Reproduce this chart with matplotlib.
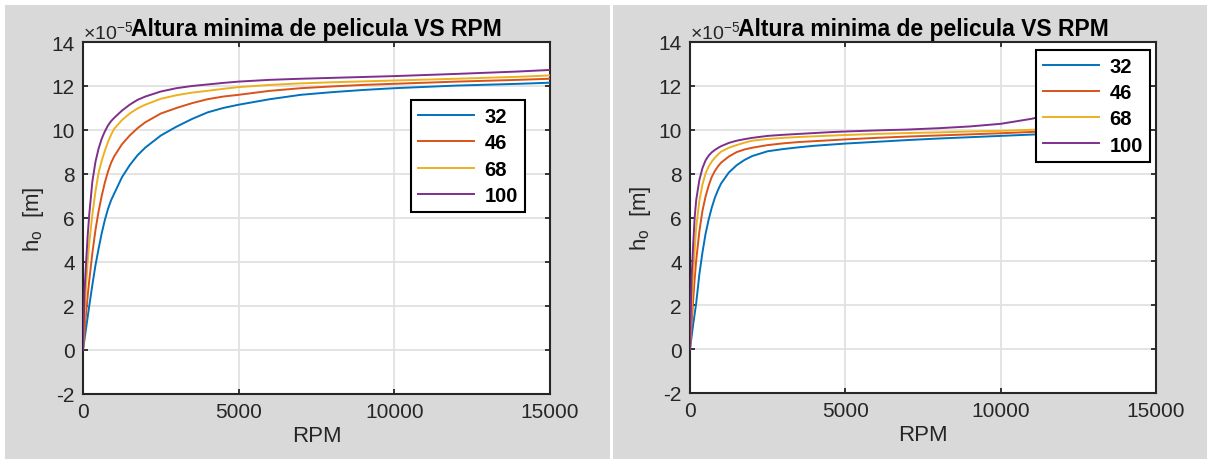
import matplotlib
matplotlib.use("Agg")
import matplotlib.pyplot as plt
from matplotlib.patches import Rectangle
from matplotlib.ticker import ScalarFormatter

# viscosidades (ISO VG)
labels = ["32", "46", "68", "100"]
colors = ["#0072BD", "#D95319", "#EDB120", "#7E2F8E"]

# panel izquierdo: h0 en unidades de 1e-5 m
rpm_izq = [0, 50, 100, 150, 200, 300, 400, 500, 600, 700, 800, 900, 1000, 1250, 1500,
           1750, 2000, 2500, 3000, 3500, 4000, 4500, 5000, 6000, 7000, 8000, 9000,
           10000, 12000, 14000, 15000]
h_izq_32 = [0, 0.5, 1.0, 1.5, 2.0, 2.95, 3.85, 4.6, 5.3, 5.9, 6.4, 6.8, 7.1, 7.85, 8.4,
            8.85, 9.2, 9.75, 10.15, 10.5, 10.8, 11.0, 11.15, 11.4, 11.6, 11.72, 11.82,
            11.9, 12.02, 12.1, 12.15]
h_izq_46 = [0, 0.85, 1.7, 2.45, 3.15, 4.4, 5.45, 6.3, 7.0, 7.6, 8.1, 8.5, 8.8, 9.35, 9.75,
            10.08, 10.35, 10.75, 11.0, 11.22, 11.4, 11.52, 11.6, 11.78, 11.9, 11.98, 12.05,
            12.1, 12.2, 12.28, 12.33]
h_izq_68 = [0, 1.55, 2.95, 4.0, 4.85, 6.15, 7.2, 8.05, 8.6, 9.05, 9.45, 9.78, 10.05, 10.45, 10.75,
            10.98, 11.15, 11.42, 11.58, 11.7, 11.78, 11.87, 11.95, 12.05, 12.12, 12.17, 12.21,
            12.25, 12.33, 12.42, 12.48]
h_izq_100 = [0, 2.7, 4.0, 5.2, 6.15, 7.65, 8.55, 9.15, 9.6, 9.93, 10.2, 10.4, 10.55, 10.88, 11.15,
             11.37, 11.52, 11.75, 11.9, 12.0, 12.07, 12.14, 12.2, 12.28, 12.33, 12.37, 12.41,
             12.45, 12.55, 12.66, 12.73]

# panel derecho
rpm_der = [0, 50, 100, 150, 200, 300, 400, 500, 600, 700, 800, 900, 1000, 1250, 1500,
           1750, 2000, 2500, 3000, 3500, 4000, 4500, 5000, 6000, 7000, 8000, 9000,
           10000, 11000, 12000]
h_der_32 = [0, 0.55, 1.1, 1.6, 2.1, 3.4, 4.4, 5.25, 5.9, 6.45, 6.9, 7.25, 7.55, 8.05, 8.38,
            8.62, 8.8, 9.02, 9.12, 9.2, 9.27, 9.32, 9.37, 9.45, 9.53, 9.6, 9.66,
            9.72, 9.78, 9.83]
h_der_46 = [0, 1.1, 2.2, 3.2, 4.05, 5.35, 6.3, 6.95, 7.45, 7.85, 8.12, 8.33, 8.5, 8.78, 8.98,
            9.1, 9.18, 9.3, 9.38, 9.44, 9.48, 9.52, 9.56, 9.63, 9.69, 9.74, 9.79,
            9.84, 9.9, 9.96]
h_der_68 = [0, 1.85, 3.3, 4.5, 5.55, 6.75, 7.5, 8.0, 8.32, 8.55, 8.72, 8.87, 9.0, 9.18, 9.3,
            9.41, 9.5, 9.58, 9.63, 9.67, 9.7, 9.73, 9.76, 9.81, 9.85, 9.88, 9.92,
            9.95, 10.0, 10.05]
h_der_100 = [0, 3.2, 4.7, 6.0, 6.8, 7.7, 8.25, 8.6, 8.82, 8.97, 9.08, 9.17, 9.25, 9.4, 9.5,
             9.57, 9.63, 9.72, 9.77, 9.81, 9.85, 9.89, 9.92, 9.97, 10.01, 10.07, 10.15,
             10.27, 10.5, 10.85]

titulo = "Altura minima de pelicula VS RPM"
xticks = [0, 5000, 10000, 15000]
yticks = [-2, 0, 2, 4, 6, 8, 10, 12, 14]

plt.rcParams["font.family"] = ["Liberation Sans", "DejaVu Sans"]
plt.rcParams["axes.unicode_minus"] = False
plt.rcParams["mathtext.default"] = "regular"


class Exp5Formatter(ScalarFormatter):
    # escala fija x10^-5 como en MATLAB
    def _set_order_of_magnitude(self, *args):
        self.orderOfMagnitude = -5

    def get_offset(self):
        return "\u00d710$^{-5}$"


W, H = 1207, 460
fig = plt.figure(figsize=(W / 100, H / 100), dpi=100, facecolor="#d9d9d9")

# franjas blancas de la captura
for x0, y0, w, h in [(0, 0, W, 6), (0, 0, 5, H), (610, 0, 3, H)]:
    fig.add_artist(Rectangle((x0 / W, 1 - (y0 + h) / H), w / W, h / H,
                             transform=fig.transFigure, facecolor="white",
                             edgecolor="none", zorder=0))

txt = "#262626"


def panel(ax, rpm, series, leg_anchor):
    for vals, lab, col in zip(series, labels, colors):
        ax.plot(rpm, [v * 1e-5 for v in vals], color=col, lw=1.4, label=lab, zorder=3)
    ax.set_xlim(0, 15000)
    ax.set_ylim(-2e-5, 14e-5)
    ax.set_xticks(xticks)
    ax.set_yticks([t * 1e-5 for t in yticks])
    ax.yaxis.set_major_formatter(Exp5Formatter(useMathText=False))
    off = ax.yaxis.get_offset_text()
    off.set_fontsize(14)
    off.set_color(txt)
    ax.grid(True, color="#e2e2e2", lw=1.3, zorder=0)
    ax.set_axisbelow(True)
    ax.tick_params(direction="in", top=True, right=True, length=3.5, width=1.3,
                   labelsize=15, colors=txt, pad=6)
    for s in ax.spines.values():
        s.set_linewidth(1.5)
        s.set_color(txt)
    ax.set_title(titulo, fontsize=16.5, fontweight="bold", color="black", y=1.0, pad=5)
    ax.set_xlabel("RPM", fontsize=16, color=txt, labelpad=3)
    ax.set_ylabel("h$_o$  [m]", fontsize=16, color=txt, labelpad=4)
    leg = ax.legend(loc="upper right", bbox_to_anchor=leg_anchor, borderaxespad=0,
                    fancybox=False, framealpha=1, edgecolor="black",
                    prop={"weight": "bold", "size": 14.5}, handlelength=2.8,
                    handletextpad=0.5, labelspacing=0.36, borderpad=0.35)
    leg.get_frame().set_linewidth(1.5)


ax1 = fig.add_axes([83 / W, 65 / H, 467 / W, 352 / H])
ax2 = fig.add_axes([690 / W, 66 / H, 466 / W, 351 / H])
panel(ax1, rpm_izq, [h_izq_32, h_izq_46, h_izq_68, h_izq_100], (0.946, 0.835))
panel(ax2, rpm_der, [h_der_32, h_der_46, h_der_68, h_der_100], (0.987, 0.978))

fig.savefig("out.png", dpi=100, facecolor=fig.get_facecolor())
